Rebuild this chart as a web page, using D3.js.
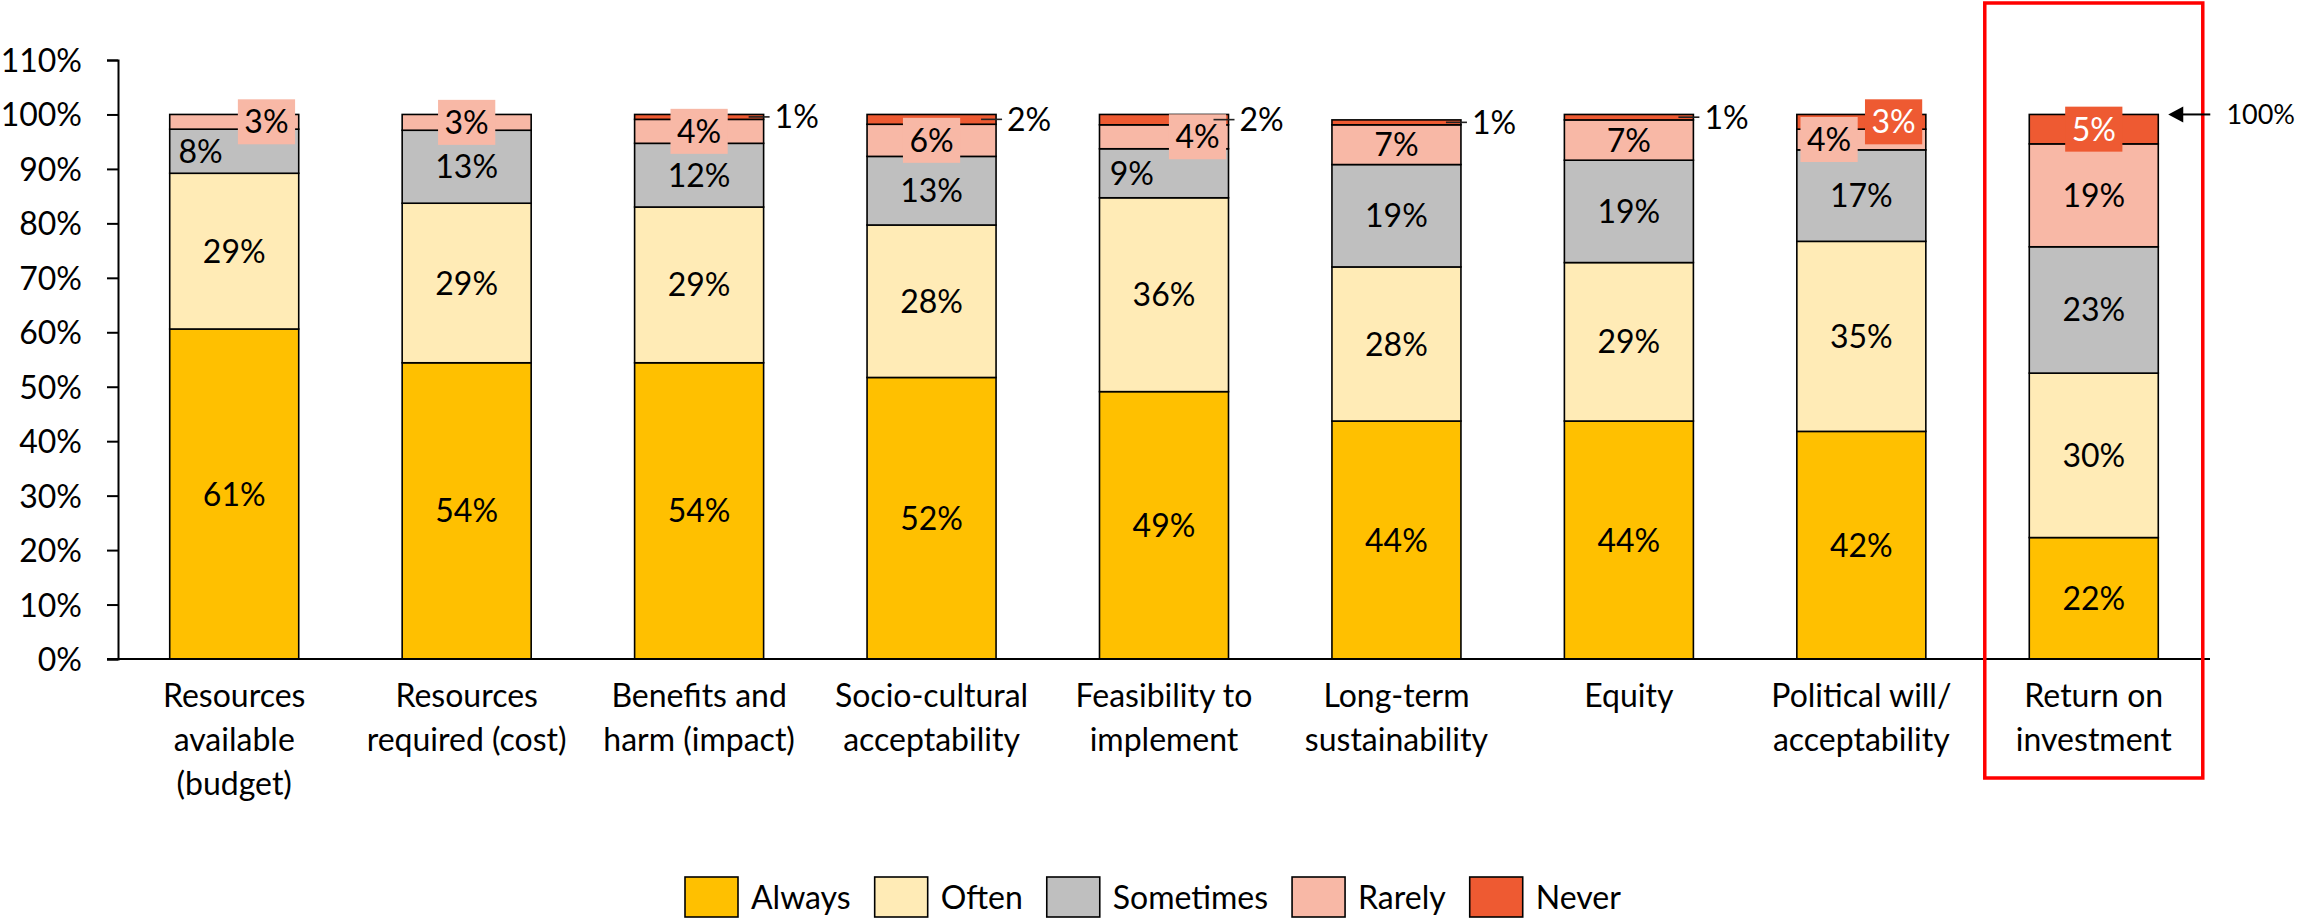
<!DOCTYPE html>
<html>
<head>
<meta charset="utf-8">
<script src="https://cdn.jsdelivr.net/npm/d3@7"></script>
<style>
  html, body { margin: 0; padding: 0; background: #fff; }
  svg { display: block; }
  text { font-family: Lato, "Noto Sans", sans-serif; fill: #000; }
</style>
</head>
<body>
<svg id="chart" width="2298" height="918"></svg>
<script>
// Categories (x axis), one line of the label per array item
const categories = [
  ["Resources", "available", "(budget)"],
  ["Resources", "required (cost)"],
  ["Benefits and", "harm (impact)"],
  ["Socio-cultural", "acceptability"],
  ["Feasibility to", "implement"],
  ["Long-term", "sustainability"],
  ["Equity"],
  ["Political will/", "acceptability"],
  ["Return on", "investment"]
];

// Share of responses (%) per category
const always    = [60.6, 54.4, 54.4, 51.7, 49.1, 43.7, 43.7, 41.8, 22.3];
const often     = [28.6, 29.3, 28.6, 28.0, 35.6, 28.3, 29.1, 34.9, 30.2];
const sometimes = [ 8.1, 13.4, 11.7, 12.6,  9.0, 18.8, 18.8, 16.8, 23.2];
const rarely    = [ 2.7,  2.9,  4.4,  5.9,  4.4,  7.3,  7.4,  3.8, 18.9];
const never     = [ 0.0,  0.0,  0.9,  1.8,  1.9,  0.9,  1.0,  2.7,  5.4];

const seriesNames = ["Always", "Often", "Sometimes", "Rarely", "Never"];
const yTicks = [0, 0.1, 0.2, 0.3, 0.4, 0.5, 0.6, 0.7, 0.8, 0.9, 1.0, 1.1];

const colors = {
  Always: "#FFC000",
  Often: "#FFEBB6",
  Sometimes: "#BFBFBF",
  Rarely: "#F8B8A6",
  Never: "#EE5A32"
};

// Build rows for the stack
const seriesValues = [always, often, sometimes, rarely, never];
const rows = categories.map((c, i) => {
  const r = { idx: i };
  seriesNames.forEach((s, k) => { r[s] = seriesValues[k][i] / 100; });
  return r;
});

const FONT = 32;
const svg = d3.select("#chart");

const x = d3.scaleBand()
  .domain(d3.range(categories.length))
  .range([118, 2210])
  .paddingInner(0.445)
  .paddingOuter(0.2225);

const y = d3.scaleLinear().domain([0, 1.1]).range([659, 60]);

const stack = d3.stack().keys(seriesNames)(rows);

// Bars
const g = svg.append("g");
stack.forEach(layer => {
  g.selectAll(null)
    .data(layer.filter(d => d[1] - d[0] > 0))
    .enter().append("rect")
    .attr("x", d => x(d.data.idx))
    .attr("width", x.bandwidth())
    .attr("y", d => y(d[1]))
    .attr("height", d => y(d[0]) - y(d[1]))
    .attr("fill", colors[layer.key])
    .attr("stroke", "#000")
    .attr("stroke-width", 1.6);
});

// Axes
const yAxis = d3.axisLeft(y)
  .tickValues(yTicks)
  .tickFormat(d3.format(".0%"))
  .tickSize(11)
  .tickPadding(25);

const ya = svg.append("g").attr("transform", "translate(118,0)").call(yAxis);
ya.select(".domain").attr("stroke", "#000").attr("stroke-width", 2);
ya.selectAll(".tick line").attr("stroke", "#000").attr("stroke-width", 2);
ya.selectAll(".tick text")
  .attr("font-size", FONT)
  .attr("font-family", "Lato, sans-serif")
  .attr("fill", "#000")
  .attr("dy", "0.36em");

svg.append("line")
  .attr("x1", 107).attr("x2", 2210)
  .attr("y1", y(0)).attr("y2", y(0))
  .attr("stroke", "#000").attr("stroke-width", 2);

// Category labels
categories.forEach((lines, i) => {
  const t = svg.append("text")
    .attr("text-anchor", "middle")
    .attr("font-size", FONT);
  lines.forEach((ln, k) => {
    t.append("tspan")
      .attr("x", x(i) + x.bandwidth() / 2)
      .attr("y", 707 + k * 44)
      .text(ln);
  });
});

// Label placement tweaks: boxed labels, horizontal shift (fraction of bar width), leader lines
const labelTweaks = {
  "0|Rarely": { box: true, dx: 0.25 },
  "0|Sometimes": { dx: -0.26 },
  "1|Rarely": { box: true },
  "2|Rarely": { box: true },
  "2|Never": { leader: true },
  "3|Rarely": { box: true },
  "3|Never": { leader: true },
  "4|Rarely": { box: true, dx: 0.26 },
  "4|Sometimes": { dx: -0.25 },
  "4|Never": { leader: true },
  "5|Never": { leader: true },
  "6|Never": { leader: true },
  "7|Rarely": { box: true, dx: -0.25 },
  "7|Never": { box: true, dx: 0.25 },
  "8|Never": { box: true }
};

const fmt = d3.format(".0%");
const lab = svg.append("g");
stack.forEach(layer => {
  layer.forEach(d => {
    const v = d[1] - d[0];
    if (v <= 0) return;
    const i = d.data.idx;
    const tw = labelTweaks[i + "|" + layer.key] || {};
    const bw = x.bandwidth();
    const cy = (y(d[0]) + y(d[1])) / 2;
    if (tw.leader) {
      const right = x(i) + bw;
      lab.append("line")
        .attr("x1", right - 15).attr("x2", right + 6)
        .attr("y1", cy).attr("y2", cy)
        .attr("stroke", "#222").attr("stroke-width", 1.6);
      lab.append("text")
        .attr("x", right + 11)
        .attr("y", cy + FONT * 0.36)
        .attr("font-size", FONT)
        .text(fmt(v));
      return;
    }
    const cx = x(i) + bw / 2 + (tw.dx || 0) * bw;
    const txt = lab.append("text")
      .attr("x", cx)
      .attr("y", cy + FONT * 0.36)
      .attr("text-anchor", "middle")
      .attr("font-size", FONT)
      .attr("fill", tw.box && layer.key === "Never" ? "#fff" : "#000")
      .style("fill", tw.box && layer.key === "Never" ? "#fff" : "#000")
      .text(fmt(v));
    if (tw.box) {
      const w = txt.node().getComputedTextLength() + 13;
      lab.insert("rect", () => txt.node())
        .attr("x", cx - w / 2)
        .attr("y", cy - 22.5)
        .attr("width", w)
        .attr("height", 45)
        .attr("fill", colors[layer.key]);
    }
  });
});

// Highlight frame around the last category
const last = categories.length - 1;
const lastCx = x(last) + x.bandwidth() / 2;
svg.append("rect")
  .attr("x", lastCx - 109)
  .attr("y", 3)
  .attr("width", 218)
  .attr("height", 775)
  .attr("fill", "none")
  .attr("stroke", "#FF0000")
  .attr("stroke-width", 3.5);

// Arrow marking the 100% level
const arrowY = y(1.0);
const tip = x(last) + x.bandwidth() + 10;
svg.append("line")
  .attr("x1", tip + 12).attr("x2", tip + 42)
  .attr("y1", arrowY).attr("y2", arrowY)
  .attr("stroke", "#000").attr("stroke-width", 2);
svg.append("path")
  .attr("d", `M${tip},${arrowY} L${tip + 15},${arrowY - 8} L${tip + 15},${arrowY + 8} Z`)
  .attr("fill", "#000");
svg.append("text")
  .attr("x", 2295)
  .attr("y", arrowY + 27 * 0.36)
  .attr("text-anchor", "end")
  .attr("font-size", 27)
  .text(fmt(1.0));

// Legend
let lx = 685;
const legend = svg.append("g");
seriesNames.forEach(s => {
  legend.append("rect")
    .attr("x", lx).attr("y", 877)
    .attr("width", 53).attr("height", 40)
    .attr("fill", colors[s])
    .attr("stroke", "#000").attr("stroke-width", 1.6);
  const t = legend.append("text")
    .attr("x", lx + 66)
    .attr("y", 897 + FONT * 0.36)
    .attr("font-size", FONT)
    .text(s);
  lx += 66 + t.node().getComputedTextLength() + 24;
});
</script>
</body>
</html>
